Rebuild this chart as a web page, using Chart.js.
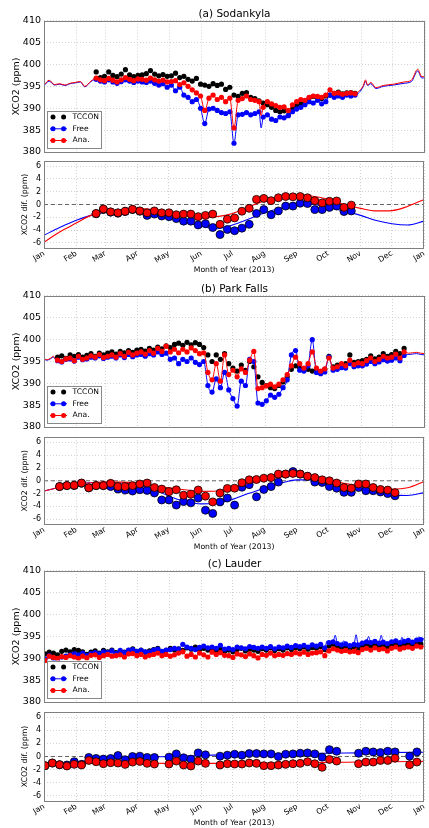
<!DOCTYPE html>
<html>
<head>
<meta charset="utf-8">
<script src="https://cdn.jsdelivr.net/npm/chart.js@4.4.0/dist/chart.umd.min.js"></script>
<style>
  body { margin: 0; background: #fff; width: 429px; height: 828px; overflow: hidden; position: relative; }
  canvas { position: absolute; left: 0; }
</style>
</head>
<body>
<canvas id="aTop"></canvas><canvas id="aDif"></canvas>
<canvas id="bTop"></canvas><canvas id="bDif"></canvas>
<canvas id="cTop"></canvas><canvas id="cDif"></canvas>
<script>
// ---- axes / labels ----
const monthStarts = [0, 31, 59, 90, 120, 151, 181, 212, 243, 273, 304, 334, 365];
const monthLabels = ['Jan', 'Feb', 'Mar', 'Apr', 'May', 'Jun', 'Jul', 'Aug', 'Sep', 'Oct', 'Nov', 'Dec', 'Jan'];
const xcoTicks = [380, 385, 390, 395, 400, 405, 410];
const difTicks = [-6, -4, -2, 0, 2, 4, 6];
const seriesNames = ['TCCON', 'Free', 'Ana.'];
const yearSpan = [0, 365];
const zeroRef = [0, 0];

function dayRange(a, b, step) {
    const out = [];
    for (let d = a; d <= b; d += step) out.push(d);
    return out;
}

// ---- (a) Sodankyla ----
const sodObsDays = dayRange(50, 298, 4);
const sodTccon = [398.3,397.0,397.3,398.3,397.5,397.2,397.8,398.8,397.6,397.2,
    397.5,397.6,397.9,398.6,397.8,397.4,397.7,397.3,397.4,398.0,
    397.0,397.3,396.6,396.2,396.8,395.5,395.3,395.0,395.6,395.2,
    395.5,394.3,394.8,393.0,392.7,393.4,393.6,392.5,392.2,391.7,
    391.2,390.8,390.2,389.5,389.2,389.4,388.4,389.9,390.5,391.0,
    391.2,392.4,392.7,392.5,392.2,392.8,393.0,393.4,393.7,393.3,
    393.5,393.6,393.4];
const sodAna = [396.9,396.5,396.3,396.8,396.4,396.0,396.5,397.0,396.6,396.3,
    396.7,396.6,396.4,396.9,396.5,396.2,396.4,396.0,396.1,396.3,
    395.4,395.8,395.0,394.2,393.5,392.8,389.5,392.3,393.0,392.0,
    392.5,391.5,392.3,385.5,391.8,392.2,392.8,392.0,391.8,391.5,
    390.2,391.5,391.0,390.6,390.2,390.3,389.5,390.8,391.5,392.0,
    391.8,392.5,392.8,392.7,392.5,393.0,394.2,393.4,393.5,393.2,
    393.4,393.5,393.3];
const sodFree = [396.6,396.2,396.0,396.5,396.0,395.7,396.1,396.5,396.2,395.9,
    396.2,396.0,395.9,396.2,395.7,395.3,395.6,394.8,395.3,394.0,
    394.8,393.0,392.5,391.5,392.0,390.0,386.5,389.8,390.0,389.5,
    389.0,388.8,389.2,382.0,388.5,388.6,389.0,388.5,388.8,389.2,
    388.0,388.5,387.5,387.2,388.0,387.8,388.3,389.2,389.8,390.2,
    390.8,391.5,391.2,391.8,391.0,391.5,393.0,392.5,392.8,392.5,
    393.0,392.8,393.0];
const sodLineDays = [0,5,10,15,20,25,30,35,39,45, 208, 302,306,308,310,313,318,325,335,345,352,358,362,365];
const sodFreeLine = [395.2,396.2,395.3,395.5,395.2,395.6,395.8,396.0,394.9,396.1, 385.5,
    393.6,395.0,396.1,395.2,395.6,394.5,395.0,395.3,395.7,396.1,398.5,396.9,397.0];
const sodAnaLine = [395.3,396.4,395.4,395.6,395.3,395.7,395.9,396.1,395.0,396.2, 388.3,
    394.0,395.2,396.5,395.3,395.9,394.7,395.2,395.5,396.0,396.4,398.9,397.2,397.3];

const sodDifDays = dayRange(50, 295, 7);
const sodDifAna = [-1.4,-0.7,-1.15,-1.3,-1.05,-0.75,-1.0,-1.3,-1.0,-1.3,-1.3,-1.6,-1.5,-1.5,-1.9,-1.7,-1.5,
    -3.1,-2.3,-2.1,-1.05,-0.6,0.8,0.95,0.6,1.05,1.25,1.2,1.25,1.05,0.6,0.25,0.5,0.55,-0.45,-0.1];
const sodDifFree = [-1.45,-0.8,-1.2,-1.35,-1.1,-0.8,-1.05,-1.7,-1.5,-1.8,-1.9,-2.2,-2.6,-2.6,-3.2,-3.0,-3.6,
    -4.7,-3.9,-4.1,-3.7,-3.1,-1.4,-0.8,-1.6,-1.0,-0.25,-0.25,0.2,0.15,-0.8,-0.8,-0.45,-0.25,-1.1,-1.0];
const sodFitDays = [0,15,31,45,59,74,90,105,120,135,151,166,181,196,212,227,243,258,273,288,304,319,334,349,365];
const sodFitFree = [-4.8,-3.6,-2.45,-1.7,-1.15,-0.85,-0.9,-1.3,-1.9,-2.6,-3.4,-3.8,-3.2,-2.3,-1.3,-0.6,-0.05,0.0,-0.5,-1.0,-1.7,-2.5,-3.0,-3.2,-2.6];
const sodFitAna = [-5.9,-4.3,-2.9,-1.7,-1.1,-0.8,-0.65,-0.8,-1.2,-1.7,-2.0,-1.9,-1.4,-0.4,0.6,1.3,1.5,1.3,0.8,0.0,-0.6,-1.0,-0.95,-0.3,0.8];

// ---- (b) Park Falls ----
const pfObsDays = dayRange(13, 345, 4);
const pfTccon = [396.0,396.3,395.7,396.5,396.2,396.6,396.0,396.4,396.8,396.2,
    396.9,396.5,396.9,397.2,396.7,397.3,397.0,397.5,397.1,397.6,
    397.8,397.4,398.0,397.6,398.3,397.9,398.6,398.2,398.9,399.2,
    398.7,399.4,398.8,399.3,398.9,398.2,396.5,395.0,396.5,395.5,
    396.8,394.5,393.5,392.8,394.2,393.0,395.0,393.8,391.5,390.2,
    389.5,389.0,388.8,389.5,390.3,391.5,393.2,394.0,393.5,393.0,
    393.2,392.8,393.0,392.5,393.2,396.2,393.8,394.2,393.7,394.5,
    396.5,394.8,395.0,395.2,395.5,396.3,395.6,396.0,396.8,396.2,
    396.6,397.3,396.8,398.0];
const pfAna = [395.3,395.0,395.6,395.8,395.2,396.2,395.5,395.8,396.3,396.0,
    396.6,395.9,396.2,396.5,396.0,396.8,396.2,397.1,396.5,396.9,
    397.2,396.7,397.5,396.9,398.0,397.3,398.5,397.2,397.8,397.0,
    397.8,397.2,398.1,397.5,396.8,397.0,392.5,390.8,394.5,390.5,
    396.5,392.0,393.0,391.5,393.3,392.5,395.3,397.3,388.8,389.0,
    389.4,389.8,389.2,389.8,390.8,392.0,394.0,396.0,394.5,393.5,
    394.5,397.2,393.5,392.8,393.3,395.8,393.5,393.8,394.5,394.0,
    395.3,394.3,394.7,394.5,395.2,395.8,395.0,395.5,396.2,395.8,
    396.0,396.7,395.8,397.2];
const pfFree = [395.2,394.9,395.5,395.6,395.1,396.0,395.4,395.6,396.0,395.8,
    396.3,395.7,396.0,396.2,395.8,396.5,395.9,396.6,396.1,396.5,
    396.6,396.2,396.8,396.5,397.2,396.6,396.9,395.5,395.8,394.5,
    395.5,395.0,395.8,394.8,394.3,395.0,389.5,388.0,391.0,389.0,
    392.5,388.5,386.5,384.8,390.5,389.5,395.5,395.0,385.5,385.2,
    386.0,387.3,386.8,387.5,389.0,390.8,396.5,397.5,393.0,392.8,
    394.0,400.0,392.5,392.2,392.6,396.0,393.0,393.2,393.6,393.5,
    394.5,393.8,394.0,394.0,394.4,395.0,394.5,394.9,395.4,395.1,
    395.3,395.8,395.2,396.4];
const pfLineDays = [0,3,6,9,11, 349,353,357,361,365];
const pfFreeLine = [395.5,395.3,395.6,396.0,395.4, 396.6,396.7,396.8,396.6,396.5];
const pfAnaLine = [395.6,395.4,395.7,396.2,395.5, 396.9,397.0,397.1,396.9,396.8];

const pfDifDays = dayRange(15, 337, 7);
const pfDifAna = [-0.9,-0.75,-0.7,-0.35,-1.1,-0.75,-0.75,-0.4,-0.9,-0.9,-0.75,-0.5,-0.35,-1.05,-1.3,-1.7,-1.4,-2.25,-2.1,-1.45,-2.4,-3.3,
    -1.9,-1.2,-1.15,-0.3,0.15,0.2,0.4,0.5,1.05,1.05,1.15,1.05,0.7,0.5,0.15,0.0,-0.35,-1.05,-1.15,-0.5,-0.5,-1.05,-1.35,-1.45,-1.85];
const pfDifFree = [-0.9,-0.75,-0.75,-0.4,-1.1,-0.75,-0.75,-0.9,-1.3,-1.45,-1.6,-1.4,-1.5,-1.9,-3.0,-3.0,-3.8,-3.25,-3.45,-2.7,-4.6,-5.1,
    -3.3,-2.7,-3.8,-1.0,-0.6,-2.5,-1.35,-0.9,-0.2,1.05,1.45,1.05,0.7,-0.2,-0.25,-0.9,-1.15,-1.8,-1.8,-1.05,-1.55,-1.55,-1.75,-2.0,-2.35];
const pfFitDays = [0,15,31,45,59,74,90,105,120,135,151,166,181,196,212,227,243,258,273,288,304,319,334,349,365];
const pfFitFree = [-1.6,-1.0,-0.5,-0.3,-0.25,-0.35,-0.7,-1.3,-2.4,-3.2,-3.6,-3.5,-2.9,-2.0,-1.15,-0.4,0.15,0.15,-0.4,-0.9,-1.3,-1.8,-2.2,-2.3,-1.85];
const pfFitAna = [-1.6,-1.0,-0.55,-0.3,-0.2,-0.2,-0.4,-0.8,-1.1,-1.4,-1.65,-1.6,-1.0,-0.4,0.2,0.6,0.85,0.7,0.1,-0.4,-0.8,-1.1,-1.3,-1.1,-0.1];

// ---- (c) Lauder ----
const ldObsDays = dayRange(1, 361, 4);
const ldTccon = [391.0,391.4,391.2,390.8,391.6,391.9,391.5,392.0,391.8,391.5,
    390.9,391.4,391.7,391.2,391.8,391.5,391.9,391.3,391.6,391.4,
    391.8,392.2,391.6,391.9,391.4,391.7,392.0,392.3,391.5,391.8,
    392.3,391.9,392.2,391.8,392.4,392.1,392.6,392.0,392.3,391.9,
    392.2,391.8,392.1,391.6,391.9,391.5,392.0,392.3,391.7,392.1,
    391.9,391.6,392.2,391.9,392.4,391.8,392.2,391.9,392.4,392.0,
    392.5,392.2,392.6,392.1,392.5,392.3,392.7,392.0,392.8,393.2,
    392.9,392.5,392.8,392.3,392.6,392.2,392.9,393.1,392.7,393.2,
    392.8,393.0,392.6,393.1,393.3,392.8,393.2,393.4,393.0,393.5,
    393.3];
const ldFree = [389.8,390.6,390.0,389.5,390.3,390.5,390.8,391.0,390.8,391.2,
    390.6,391.1,391.3,391.0,391.5,391.3,391.7,391.1,391.8,391.3,
    391.9,392.0,391.6,391.8,391.5,391.4,391.9,392.1,391.6,391.9,
    392.0,392.3,392.1,393.2,392.6,392.3,392.0,392.5,392.8,392.4,
    392.6,392.3,393.0,392.1,392.3,392.0,392.6,392.4,392.2,392.7,
    392.5,392.3,392.6,392.3,392.7,392.2,392.6,392.4,392.8,392.5,
    392.9,392.7,393.0,392.6,393.1,392.8,393.2,392.4,393.6,393.8,
    393.4,393.1,393.3,392.9,393.2,393.1,393.5,393.8,393.6,393.9,
    393.5,393.7,393.4,393.8,394.0,393.6,393.9,394.1,393.7,394.2,
    394.3];
const ldAna = [389.5,390.5,390.2,390.0,390.4,390.2,390.6,390.3,390.0,390.5,
    390.1,390.7,390.8,390.2,390.6,390.9,390.5,390.6,390.8,390.3,
    391.0,391.1,390.6,390.9,390.3,390.7,390.9,391.2,390.6,390.9,
    390.5,390.8,391.2,391.5,390.5,390.9,390.3,391.2,390.8,390.3,
    391.4,390.9,391.3,390.7,390.6,390.2,391.0,390.8,390.4,391.0,
    390.6,390.1,390.9,390.7,391.2,390.6,390.9,390.7,391.1,390.9,
    391.3,391.0,391.4,390.9,391.2,391.3,391.5,390.6,391.7,392.2,
    391.9,391.6,391.8,391.5,391.6,391.3,392.0,392.3,391.9,392.4,
    392.0,392.2,391.7,392.3,392.6,392.1,392.4,392.6,392.3,392.8,
    392.6];
const ldLineDays = [0, 271, 279, 287, 299, 311, 323, 343, 359, 365];
const ldFreeLine = [389.6, 393.9, 395.3, 394.0, 395.4, 395.0, 395.3, 394.8, 394.9, 394.6];
const ldAnaLine = [389.4, 391.8, 392.5, 391.9, 392.4, 392.3, 392.6, 392.9, 392.8, 392.9];

const ldDifDays = dayRange(1, 358, 7);
const ldDifAna = [-1.4,-1.0,-1.25,-1.45,-1.2,-1.3,-0.6,-0.8,-1.1,-0.95,-1.0,-1.2,-0.85,-0.75,-1.05,-1.15,null,-1.15,-0.7,-1.3,-1.45,-0.7,-1.05,null,
    -1.3,-1.1,-1.15,-1.15,-1.0,-1.05,-1.4,-1.4,-1.3,-1.2,-1.1,-1.05,-0.8,-1.1,-1.65,-0.45,-0.7,null,null,-1.1,-0.85,-0.85,-0.6,-0.6,-0.25,null,-1.25,-0.85];
const ldDifFree = [-1.4,-1.0,-1.25,-1.3,-0.8,-1.2,-0.15,-0.3,-0.4,-0.3,0.15,-0.5,0.0,0.05,-0.15,-0.15,null,-0.1,0.4,-0.2,-0.4,0.55,0.25,null,
    0.05,0.2,0.35,0.2,0.45,0.45,0.4,0.4,0.0,0.35,0.4,0.5,0.55,0.4,-0.1,1.05,0.8,null,null,0.5,0.8,0.7,0.6,0.8,0.7,null,0.05,0.7];
const ldFitDays = [0,31,59,90,120,151,181,212,243,273,304,334,365];
const ldFitFree = [-1.3,-0.85,-0.35,-0.1,0.0,0.15,0.3,0.4,0.45,0.5,0.55,0.6,0.65];
const ldFitAna = [-1.25,-1.1,-1.0,-1.0,-1.05,-1.05,-1.05,-1.0,-0.95,-0.9,-0.85,-0.8,-0.75];

// ---- drawing ----
const FONT = 'DejaVu Sans';
const RED = '#ff0000';
const BLUE = '#0000ff';
Chart.defaults.font.family = FONT;
Chart.defaults.color = '#000';

function toPoints(days, vals) {
    return days.map((d, i) => ({ x: d, y: vals[i] }));
}
function mergeLine(obsDays, obsVals, extraDays, extraVals) {
    return toPoints(obsDays, obsVals).concat(toPoints(extraDays, extraVals)).sort((p, q) => p.x - q.x);
}

function drawLegend(ctx, a) {
    const x = a.left + 3, y = a.bottom - 41.5, w = 54, h = 37;
    const cols = ['#000', BLUE, RED];
    ctx.fillStyle = '#fff';
    ctx.fillRect(x, y, w, h);
    ctx.strokeStyle = '#888';
    ctx.lineWidth = 1;
    ctx.strokeRect(Math.round(x) + 0.5, Math.round(y) + 0.5, w, h);
    seriesNames.forEach((name, i) => {
        const cy = y + 6.6 + i * 11.7;
        if (i > 0) {
            ctx.strokeStyle = cols[i];
            ctx.lineWidth = 1;
            ctx.beginPath(); ctx.moveTo(x + 3, cy); ctx.lineTo(x + 20, cy); ctx.stroke();
        }
        ctx.fillStyle = cols[i];
        [x + 6, x + 16.6].forEach(mx => {
            ctx.beginPath(); ctx.arc(mx, cy, 2.5, 0, Math.PI * 2); ctx.fill();
        });
        ctx.fillStyle = '#000';
        ctx.font = '7.6px "' + FONT + '"';
        ctx.textBaseline = 'middle';
        ctx.textAlign = 'left';
        ctx.fillText(name, x + 25.6, cy);
    });
}

// box round the plot + optional legend
const framePlugin = {
    id: 'frame',
    afterDraw(chart, args, opts) {
        const { ctx, chartArea: a } = chart;
        ctx.save();
        ctx.strokeStyle = '#808080';
        ctx.lineWidth = 1;
        const l = Math.round(a.left) + 0.5, t = Math.round(a.top) + 0.5;
        ctx.strokeRect(l, t, Math.round(a.right) - Math.round(a.left) - 1, Math.round(a.bottom) - Math.round(a.top));
        if (opts.legend) drawLegend(ctx, a);
        ctx.restore();
    }
};

function xScale(showLabels, height) {
    return {
        type: 'linear', min: yearSpan[0], max: yearSpan[1],
        afterBuildTicks: s => { s.ticks = monthStarts.map(v => ({ value: v })); },
        afterFit: s => { s.height = height; s.paddingLeft = 0; s.paddingRight = 0; },
        ticks: {
            display: showLabels, autoSkip: false, minRotation: 32, maxRotation: 32, padding: 1,
            font: { size: 7.7 }, color: '#000',
            callback: v => monthLabels[monthStarts.indexOf(v)]
        },
        grid: { color: '#c8c8c8', lineWidth: 0.8, drawTicks: false, borderDash: [1, 2] },
        border: { display: false, dash: [1, 2] },
        title: { display: showLabels, text: 'Month of Year (2013)', font: { size: 7.7 }, color: '#000', padding: { top: 0, bottom: 0 } }
    };
}

function yScale(ticks, min, max, fontSize, label, labelSize, labelPad) {
    return {
        min: min, max: max,
        afterBuildTicks: s => { s.ticks = ticks.map(v => ({ value: v })); },
        afterFit: s => { s.width = 44; s.paddingTop = 0; s.paddingBottom = 0; },
        ticks: { font: { size: fontSize }, color: '#000', padding: 3 },
        grid: { color: '#c8c8c8', lineWidth: 0.8, drawTicks: false, borderDash: [1, 2] },
        border: { display: false, dash: [1, 2] },
        title: { display: true, text: label, font: { size: labelSize }, color: '#000', padding: { top: labelPad, bottom: 0 } }
    };
}

function dots(days, vals, color, order, r, edge) {
    return {
        data: toPoints(days, vals), order: order,
        pointRadius: r, pointBackgroundColor: color,
        pointBorderColor: edge ? '#000' : color, pointBorderWidth: edge ? 0.8 : 0,
        showLine: false
    };
}
function line(points, color, order, width, dash) {
    return {
        data: points, order: order, showLine: true, pointRadius: 0,
        borderColor: color, borderWidth: width, borderDash: dash || [],
        cubicInterpolationMode: 'monotone', tension: 0
    };
}

function place(el, top, h) {
    el.width = 429;
    el.height = h;
    el.style.top = top + 'px';
}

const baseOpts = { responsive: false, animation: false, events: [] };

function topChart(id, s, g) {
    const el = document.getElementById(id);
    const titleH = 10.5 * 1.2;
    const c0 = Math.floor(g.top - titleH - 1);
    const h = Math.ceil(g.bottom + 2 - c0);
    place(el, c0, h);
    new Chart(el, {
        type: 'scatter',
        data: {
            datasets: [
                dots(s.obsDays, s.ana, RED, 0, 2.6),
                line(mergeLine(s.obsDays, s.ana, s.lineDays, s.anaLine), RED, 1, 1),
                dots(s.obsDays, s.free, BLUE, 2, 2.6),
                line(mergeLine(s.obsDays, s.free, s.lineDays, s.freeLine), BLUE, 3, 1),
                dots(s.obsDays, s.tccon, '#000', 4, 2.6)
            ]
        },
        options: Object.assign({}, baseOpts, {
            layout: { padding: { top: g.top - titleH - c0, bottom: c0 + h - g.bottom, left: 0, right: 1 } },
            scales: {
                x: xScale(false, 0),
                y: yScale(xcoTicks, 380, 410, 9.5, 'XCO2 (ppm)', 9.5, 11)
            },
            plugins: {
                legend: { display: false },
                tooltip: { enabled: false },
                title: { display: true, text: s.title, fullSize: false, font: { size: 10.5, weight: 'normal' }, color: '#000', padding: 0 },
                frame: { legend: true }
            }
        }),
        plugins: [framePlugin]
    });
}

function difChart(id, s, g) {
    const el = document.getElementById(id);
    const lh = 7.7 * 1.2;
    const c0 = Math.floor(g.difTop - 6);
    const axisBottom = g.xlabelY + lh / 2;
    const h = Math.ceil(axisBottom + 2 - c0);
    place(el, c0, h);
    new Chart(el, {
        type: 'scatter',
        data: {
            datasets: [
                dots(s.difDays, s.difAna, RED, 0, 4, true),
                line(toPoints(s.fitDays, s.fitAna), RED, 1, 1.1),
                dots(s.difDays, s.difFree, BLUE, 2, 4, true),
                line(toPoints(s.fitDays, s.fitFree), BLUE, 3, 1.1),
                line(toPoints(yearSpan, zeroRef), '#555', 10, 0.9, [4, 3])
            ]
        },
        options: Object.assign({}, baseOpts, {
            layout: { padding: { top: g.difTop - c0, bottom: c0 + h - axisBottom, left: 0, right: 1 } },
            scales: {
                x: xScale(true, axisBottom - g.difBottom),
                y: yScale(difTicks, -6.8, 6.8, 8, 'XCO2 dif. (ppm)', 7.8, 20.3)
            },
            plugins: {
                legend: { display: false },
                tooltip: { enabled: false },
                frame: { legend: false }
            }
        }),
        plugins: [framePlugin]
    });
}

const sites = [
    { top: 'aTop', dif: 'aDif', title: '(a) Sodankyla',
      obsDays: sodObsDays, tccon: sodTccon, free: sodFree, ana: sodAna,
      lineDays: sodLineDays, freeLine: sodFreeLine, anaLine: sodAnaLine,
      difDays: sodDifDays, difFree: sodDifFree, difAna: sodDifAna,
      fitDays: sodFitDays, fitFree: sodFitFree, fitAna: sodFitAna },
    { top: 'bTop', dif: 'bDif', title: '(b) Park Falls',
      obsDays: pfObsDays, tccon: pfTccon, free: pfFree, ana: pfAna,
      lineDays: pfLineDays, freeLine: pfFreeLine, anaLine: pfAnaLine,
      difDays: pfDifDays, difFree: pfDifFree, difAna: pfDifAna,
      fitDays: pfFitDays, fitFree: pfFitFree, fitAna: pfFitAna },
    { top: 'cTop', dif: 'cDif', title: '(c) Lauder',
      obsDays: ldObsDays, tccon: ldTccon, free: ldFree, ana: ldAna,
      lineDays: ldLineDays, freeLine: ldFreeLine, anaLine: ldAnaLine,
      difDays: ldDifDays, difFree: ldDifFree, difAna: ldDifAna,
      fitDays: ldFitDays, fitFree: ldFitFree, fitAna: ldFitAna }
];

// pixel frames of each panel
const panelGeom = [
    { top: 20.7, bottom: 153.3, difTop: 161, difBottom: 248, xlabelY: 270 },
    { top: 296, bottom: 429, difTop: 437.3, difBottom: 524.3, xlabelY: 546.7 },
    { top: 571, bottom: 704, difTop: 712, difBottom: 801, xlabelY: 822.7 }
];

sites.forEach((s, i) => {
    topChart(s.top, s, panelGeom[i]);
    difChart(s.dif, s, panelGeom[i]);
});
</script>
</body>
</html>
